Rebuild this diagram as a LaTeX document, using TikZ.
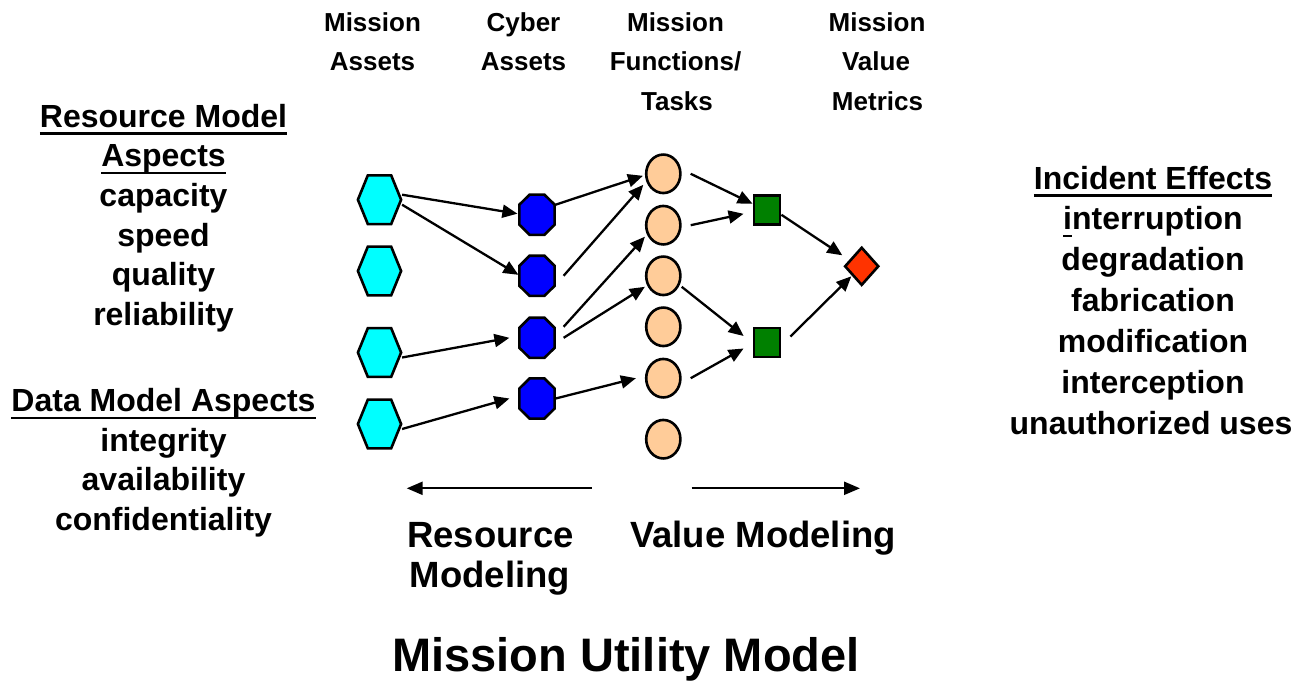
\documentclass[tikz,border=0pt]{standalone}
\usepackage{fontspec}
\setmainfont{Liberation Sans}
\usetikzlibrary{shapes.geometric,arrows.meta,calc}
\definecolor{hexcol}{HTML}{00FFFF}
\definecolor{octcol}{HTML}{0000FF}
\definecolor{ellcol}{HTML}{FFCC99}
\definecolor{sqcol}{HTML}{008000}
\definecolor{diacol}{HTML}{FF3300}
\newcommand\myul[1]{\setbox0=\hbox{#1}\rlap{\rule[-7.5pt]{\wd0}{2.5pt}}\box0}
\begin{document}
\begin{tikzpicture}[x=1pt,y=-1pt,
  hexn/.style={rectangle, draw=none, minimum width=43.2pt, minimum height=48.8pt, inner sep=0pt, outer sep=0pt},
  octn/.style={rectangle, draw=none, minimum width=35.2pt, minimum height=40.2pt, inner sep=0pt, outer sep=0pt},
  shp/.style={draw=black, line width=2.6pt, line join=miter},
  elln/.style={ellipse, shp, fill=ellcol, minimum width=34.2pt, minimum height=38.5pt, inner sep=0pt},
  sqn/.style={rectangle, shp, fill=sqcol, minimum width=26.2pt, minimum height=29.2pt, inner sep=0pt},
  dian/.style={diamond, shp, fill=diacol, minimum width=34.2pt, minimum height=38.2pt, inner sep=0pt},
  arr/.style={line width=2.3pt, -{Triangle[length=15pt,width=13pt]}},
  bigarr/.style={line width=2.3pt, -{Triangle[length=16pt,width=13pt]}},
  hdr/.style={font=\fontsize{26}{30}\selectfont\bfseries, anchor=base, inner sep=0pt},
  side/.style={font=\fontsize{32}{38}\selectfont\bfseries, anchor=base, inner sep=0pt},
  btm/.style={font=\fontsize{36.5}{40}\selectfont\bfseries, anchor=base, inner sep=0pt},
  ttl/.style={font=\fontsize{47}{52}\selectfont\bfseries, anchor=base, inner sep=0pt}]

\path[use as bounding box, fill=white] (0,0) rectangle (1301,680);

% ---- column headers
\node[hdr] (t1a) at (372.5,31.7) {Mission};
\node[hdr] (t1b) at (372.5,70.7) {Assets};
\node[hdr] (t2a) at (523.5,31.7) {Cyber};
\node[hdr] (t2b) at (523.5,70.7) {Assets};
\node[hdr] (t3a) at (675.5,31.7) {Mission};
\node[hdr] (t3b) at (675.5,70.7) {Functions/};
\node[hdr] (t3c) at (677,110) {Tasks};
\node[hdr] (t4a) at (877,31.7) {Mission};
\node[hdr] (t4b) at (876,70.7) {Value};
\node[hdr] (t4c) at (877.5,110) {Metrics};

% ---- left text
\node[side] (l1) at (163.5,127) {\myul{Resource Model}};
\node[side] (l2) at (163.5,166.5) {\myul{Aspects}};
\node[side] (l3) at (163.5,206) {capacity};
\node[side] (l4) at (163.5,246) {speed};
\node[side] (l5) at (163.5,285.5) {quality};
\node[side] (l6) at (163.5,325) {reliability};
\node[side] (l7) at (163.5,411.5) {\myul{Data Model Aspects}};
\node[side] (l8) at (163.5,451) {integrity};
\node[side] (l9) at (163.5,490.5) {availability};
\node[side] (l10) at (163.5,530) {confidentiality};

% ---- right text
\node[side] (r1) at (1153,189) {\myul{Incident Effects}};
\node[side] (r2) at (1153,229.5) {\myul{i}nterruption};
\node[side] (r3) at (1153,270) {degradation};
\node[side] (r4) at (1153,311) {fabrication};
\node[side] (r5) at (1153,352) {modification};
\node[side] (r6) at (1153,393) {interception};
\node[side] (r7) at (1151,434) {unauthorized uses};

% ---- shapes
\foreach \n/\yy in {h1/199.7,h2/271,h3/352.5,h4/424}{
  \node[hexn] (\n) at (379.5,\yy) {};
  \draw[shp, fill=hexcol] (\n.west)
    -- ($(\n.north west)!0.23!(\n.north east)$)
    -- ($(\n.north west)!0.77!(\n.north east)$)
    -- (\n.east)
    -- ($(\n.south west)!0.77!(\n.south east)$)
    -- ($(\n.south west)!0.23!(\n.south east)$) -- cycle;
}
\foreach \n/\yy in {o1/214.7,o2/275.8,o3/337.8,o4/398.5}{
  \node[octn] (\n) at (537,\yy) {};
  \draw[shp, fill=octcol]
       ($(\n.north west)!0.29!(\n.north east)$)
    -- ($(\n.north west)!0.71!(\n.north east)$)
    -- ($(\n.north east)!0.25!(\n.south east)$)
    -- ($(\n.north east)!0.75!(\n.south east)$)
    -- ($(\n.south west)!0.71!(\n.south east)$)
    -- ($(\n.south west)!0.29!(\n.south east)$)
    -- ($(\n.north west)!0.75!(\n.south west)$)
    -- ($(\n.north west)!0.25!(\n.south west)$) -- cycle;
}
\foreach \n/\yy in {e1/173.8,e2/225.2,e3/275.8,e4/326.8,e5/378.2,e6/439.2}{
  \node[elln] (\n) at (663.3,\yy) {};
}
\node[sqn] (s1) at (767,209.8) {};
\node[sqn] (s2) at (767,342.5) {};
\node[dian] (d) at (861.7,266.3) {};

% ---- connectors
\draw[arr] ($(h1.east)+(1,-5)$) -- ($(o1.west)+(-2,-1)$);
\draw[arr] ($(h1.east)+(1,5)$) -- ($(o2.west)+(-1,-1)$);
\draw[arr] ($(h3.east)+(1,5)$) -- ($(o3.west)+(-10,0)$);
\draw[arr] ($(h4.east)+(1,5)$) -- ($(o4.west)+(-10,0)$);
\draw[arr] ($(o1.east)+(1,-10)$) -- ($(e1.west)+(-2,2)$);
\draw[arr] ($(o2.east)+(9,0)$) -- ($(e1.west)+(-1.6,11)$);
\draw[arr] ($(o3.east)+(9,-11)$) -- ($(e2.west)+(0,11.5)$);
\draw[arr] ($(o3.east)+(9,0)$) -- ($(e3.west)+(0,11)$);
\draw[arr] ($(o4.east)+(1,0)$) -- ($(e5.west)+(-9,0)$);
\draw[arr] ($(e1.east)+(9,0)$) -- ($(s1.west)+(0,-6)$);
\draw[arr] ($(e2.east)+(9,0)$) -- ($(s1.west)+(-9,4)$);
\draw[arr] ($(e3.east)+(0,11)$) -- ($(s2.west)+(-9,-6.5)$);
\draw[arr] ($(e5.east)+(9,0)$) -- ($(s2.west)+(-9,6)$);
\draw[arr] ($(s1.east)+(0,5)$) -- ($(d.west)+(-1,-11)$);
\draw[arr] ($(s2.east)+(9,-6)$) -- ($(d.west)+(8,10)$);

% ---- direction arrows
\coordinate (rmA) at (591.7,488.3);
\coordinate (rmB) at (406.7,488.3);
\coordinate (vmA) at (691.7,488.3);
\coordinate (vmB) at (860,488.3);
\draw[bigarr] (rmA) -- (rmB);
\draw[bigarr] (vmA) -- (vmB);

% ---- bottom labels
\node[btm] (b1) at (490.5,547.3) {Resource};
\node[btm] (b2) at (490,587.3) {Modeling};
\node[btm] (b3) at (763,547.3) {Value Modeling};
\node[ttl] (title) at (626,671.7) {Mission Utility Model};
\end{tikzpicture}
\end{document}
